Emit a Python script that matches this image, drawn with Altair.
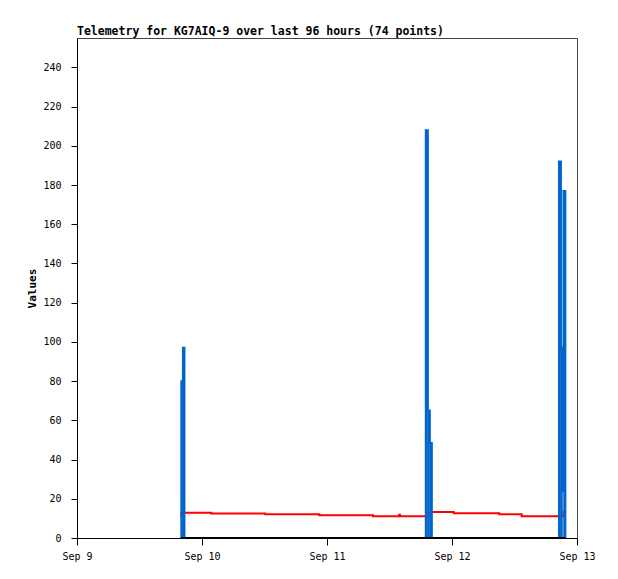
import altair as alt
import pandas as pd

times = [
    "2024-09-09T19:56:00", "2024-09-09T20:02:00", "2024-09-09T20:20:00", "2024-09-09T20:38:00",
    "2024-09-10T01:46:00", "2024-09-10T12:08:00", "2024-09-10T22:31:00", "2024-09-11T08:50:00",
    "2024-09-11T13:50:00", "2024-09-11T14:02:00",
    "2024-09-11T18:58:00", "2024-09-11T19:22:00", "2024-09-11T19:45:00", "2024-09-11T20:08:00",
    "2024-09-12T00:20:00", "2024-09-12T09:04:00", "2024-09-12T13:22:00",
    "2024-09-12T20:32:00", "2024-09-12T20:55:00", "2024-09-12T21:12:00", "2024-09-12T21:24:00",
    "2024-09-12T21:46:00",
]
red_values = [10.7, 12.9, 12.9, 12.9,
              12.5, 12.1, 11.6, 11.1,
              11.9, 11.1,
              11.1, 11.1, 13.2, 13.2,
              12.6, 12.1, 11.1,
              11.1, 11.1, 11.1, 13.2,
              13.2]
blue_values = [0, 80, 97, 0,
               0, 0, 0, 0,
               0, 0,
               208, 65, 48.5, 0,
               0, 0, 0,
               192, 97, 24, 177,
               0]
black_values = [0] * len(times)

series_names = ["Ch1", "Ch2", "Ch3"]
series_colors = ["#ff0000", "#0066cc", "#000000"]
y_ticks = [0, 20, 40, 60, 80, 100, 120, 140, 160, 180, 200, 220, 240]

rows = []
for name, vals in zip(series_names, [red_values, blue_values, black_values]):
    for t, v in zip(times, vals):
        rows.append({"time": t, "series": name, "value": v})
df = pd.DataFrame(rows)

FONT = "DejaVu Sans Mono"

x_scale = alt.Scale(domain=[alt.DateTime(year=2024, month=9, date=9),
                            alt.DateTime(year=2024, month=9, date=13)])
y_scale = alt.Scale(domain=[0, 255], nice=False)

x_enc = alt.X(
    "time:T",
    scale=x_scale,
    axis=alt.Axis(
        title=None, format="%b %-d", grid=False,
        values=[alt.DateTime(year=2024, month=9, date=d) for d in [9, 10, 11, 12, 13]],
        tickSize=7, labelPadding=6, labelFontSize=10, labelFont=FONT,
        labelColor="#000", domainColor="#000", tickColor="#000",
        labelFlush=False, labelOverlap=False,
    ),
)
y_enc = alt.Y(
    "value:Q",
    scale=y_scale,
    axis=alt.Axis(
        title="Values", values=y_ticks, grid=False,
        tickSize=6, labelPadding=10, labelFontSize=10, labelFont=FONT,
        labelColor="#000", domainColor="#000", tickColor="#000",
        titleFont=FONT, titleFontSize=11, titleFontWeight="bold", titleColor="#000",
        titleAngle=-90, titleX=-42, titleY=250, titleAlign="center", titleBaseline="alphabetic",
    ),
)

red_line = (
    alt.Chart(df[df["series"] == "Ch1"])
    .mark_line(interpolate="step-after", strokeWidth=2, color=series_colors[0], strokeCap="butt")
    .encode(x=x_enc, y=y_enc, order="time:T")
)
blue_fill = (
    alt.Chart(df[df["series"] == "Ch2"])
    .transform_window(next_time="lead(time)", sort=[alt.SortField("time")], frame=[None, None])
    .transform_filter("datum.next_time != null")
    .mark_rect(color=series_colors[1], opacity=1)
    .encode(
        x=alt.X("time:T", scale=x_scale),
        x2="next_time:T",
        y=alt.Y("value:Q", scale=y_scale),
        y2=alt.datum(0),
    )
)
blue_line = (
    alt.Chart(df[df["series"] == "Ch2"])
    .mark_line(interpolate="step-after", strokeWidth=2, color=series_colors[1], strokeCap="butt")
    .encode(x=x_enc, y=y_enc, order="time:T")
)
black_line = (
    alt.Chart(df[df["series"] == "Ch3"])
    .mark_line(interpolate="step-after", strokeWidth=2, color=series_colors[2], strokeCap="butt")
    .encode(x=x_enc, y=y_enc, order="time:T")
)

chart = (
    alt.layer(red_line, blue_fill, blue_line, black_line)
    .properties(
        width=500, height=500,
        autosize=alt.AutoSizeParams(type="none"),
        padding={"left": 69, "top": 30, "right": 33, "bottom": 41},
        title=alt.TitleParams(
            "Telemetry for KG7AIQ-9 over last 96 hours (74 points)",
            anchor="start", frame="group", font=FONT, fontSize=11.5, fontWeight="bold",
            color="#000", offset=1,
        ),
    )
    .configure_view(stroke="#444", strokeWidth=1)
)

chart.save("out.html", embed_options={"renderer": "svg", "actions": False})
